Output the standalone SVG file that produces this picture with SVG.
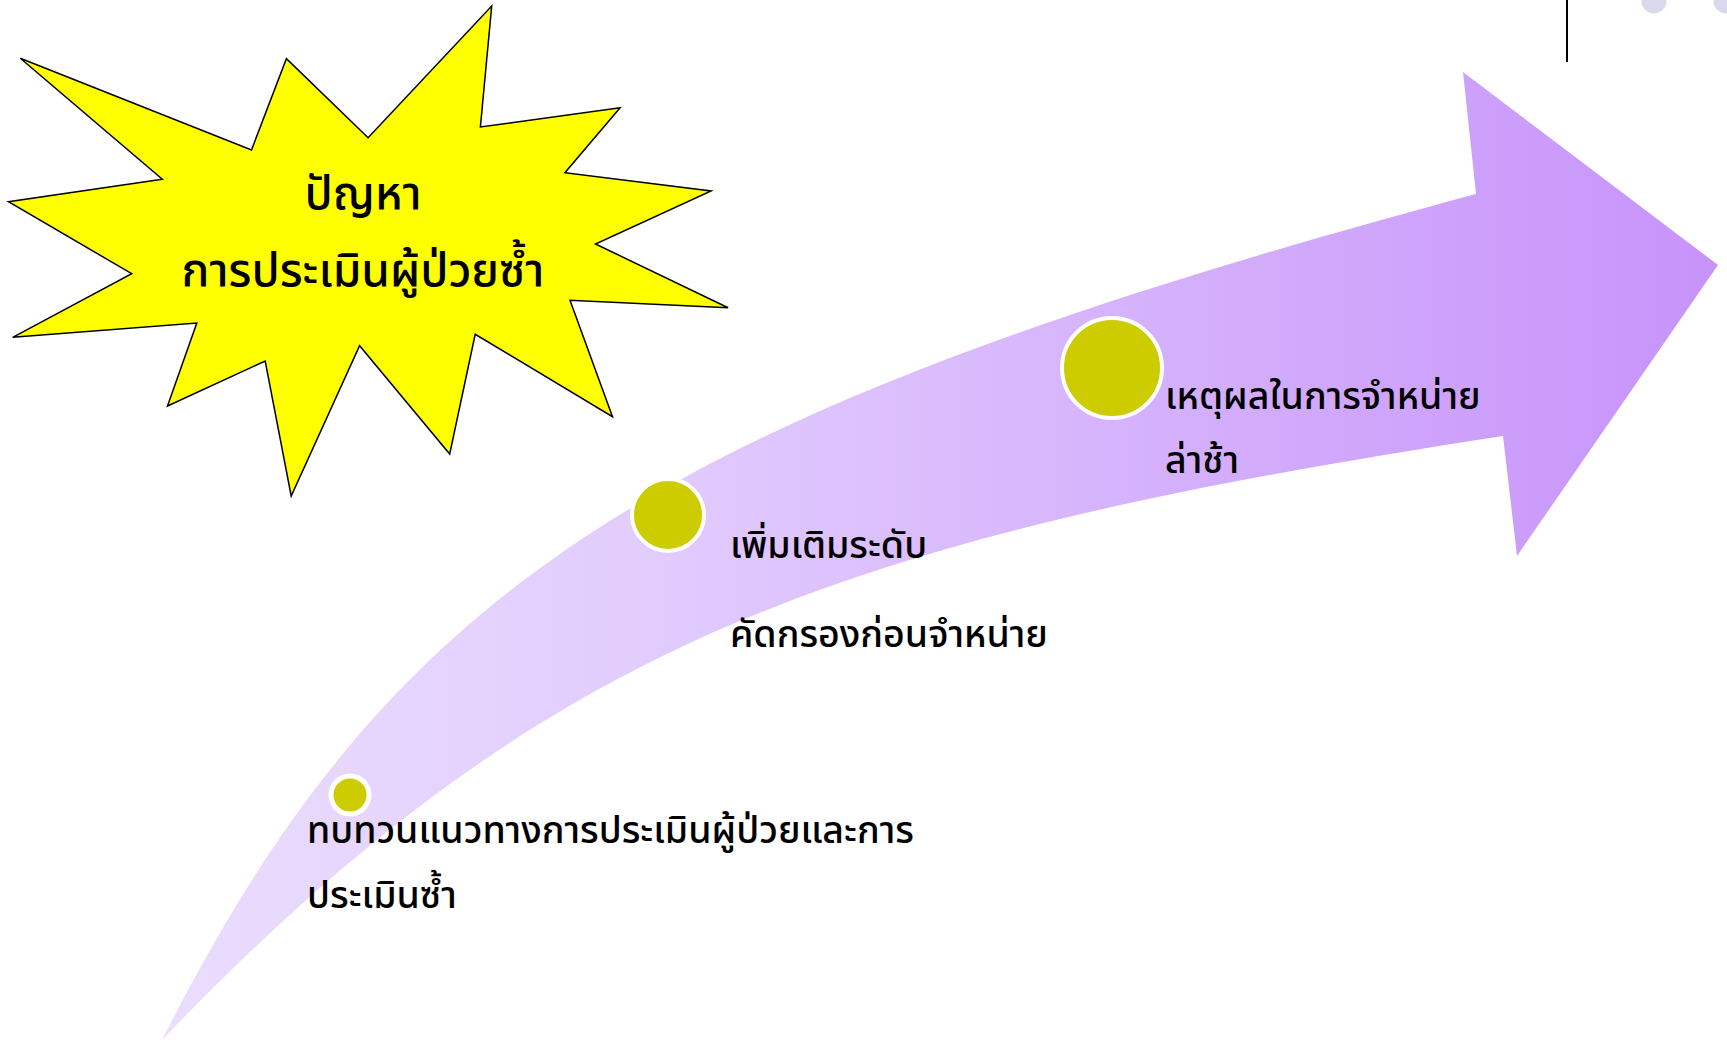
<svg xmlns="http://www.w3.org/2000/svg" width="1727" height="1042" viewBox="0 0 1727 1042">
<style>
.t{font-family:"Noto Sans Thai","Noto Sans","DejaVu Sans",sans-serif;font-size:37.5px;font-weight:500;fill:#000}
.h{font-size:46px;font-weight:500}
.dot{fill:#CCCC00;stroke:#fff;stroke-width:4}
</style>
<defs>
<linearGradient id="g" gradientUnits="userSpaceOnUse" x1="162" y1="0" x2="1718" y2="0">
<stop offset="0" stop-color="#EADDFD"/>
<stop offset="0.3" stop-color="#E2CDFD"/>
<stop offset="1" stop-color="#C793FA"/>
</linearGradient>
</defs>
<rect width="1727" height="1042" fill="#fff"/>
<g id="deco">
<line x1="1567" y1="0" x2="1567" y2="62" stroke="#000" stroke-width="2"/>
<circle cx="1654" cy="1" r="12.5" fill="#D9D9EE"/>
<circle cx="1726" cy="1" r="12.5" fill="#D9D9EE"/>
</g>
<g id="connectors">
<path id="arrow" d="M162,1040 C392,584 655,415 1476,194 L1463,72 L1718,265 L1517,556 L1503,436 C833,539 543,643 162,1040 Z" fill="url(#g)"/>
</g>
<g id="starburst">
<polygon points="20.3,58.3 251.5,150 286.4,58.7 368.1,137.7 491.7,6 480.4,127 620.1,107.7 564.9,172.7 711.1,191 595.5,244 728.1,307.7 570,300.3 612.5,416.7 475.2,334.3 449.7,454 359.6,345.7 291.2,496 265.2,361 167.5,406 196.8,323 12.7,337.3 131.7,273.7 8.5,201.7 162.3,179.3" fill="#FFFF00" stroke="#000" stroke-width="1.5"/>
<text class="t h" x="363" y="209" text-anchor="middle">ปัญหา</text>
<text class="t h" x="363" y="286" text-anchor="middle">การประเมินผู้ป่วยซ้ำ</text>
</g>
<g id="step1">
<circle cx="350" cy="795" r="19" fill="#CCCC00" stroke="#fff" stroke-width="5"/>
<text class="t" x="307" y="843">ทบทวนแนวทางการประเมินผู้ป่วยและการ</text>
<text class="t" x="307" y="908">ประเมินซ้ำ</text>
</g>
<g id="step2">
<circle class="dot" cx="668" cy="515" r="36"/>
<text class="t" x="730" y="558">เพิ่มเติมระดับ</text>
<text class="t" x="730" y="647">คัดกรองก่อนจำหน่าย</text>
</g>
<g id="step3">
<circle class="dot" cx="1112" cy="368" r="50"/>
<text class="t" x="1165" y="409">เหตุผลในการจำหน่าย</text>
<text class="t" x="1165" y="473">ล่าช้า</text>
</g>
</svg>
